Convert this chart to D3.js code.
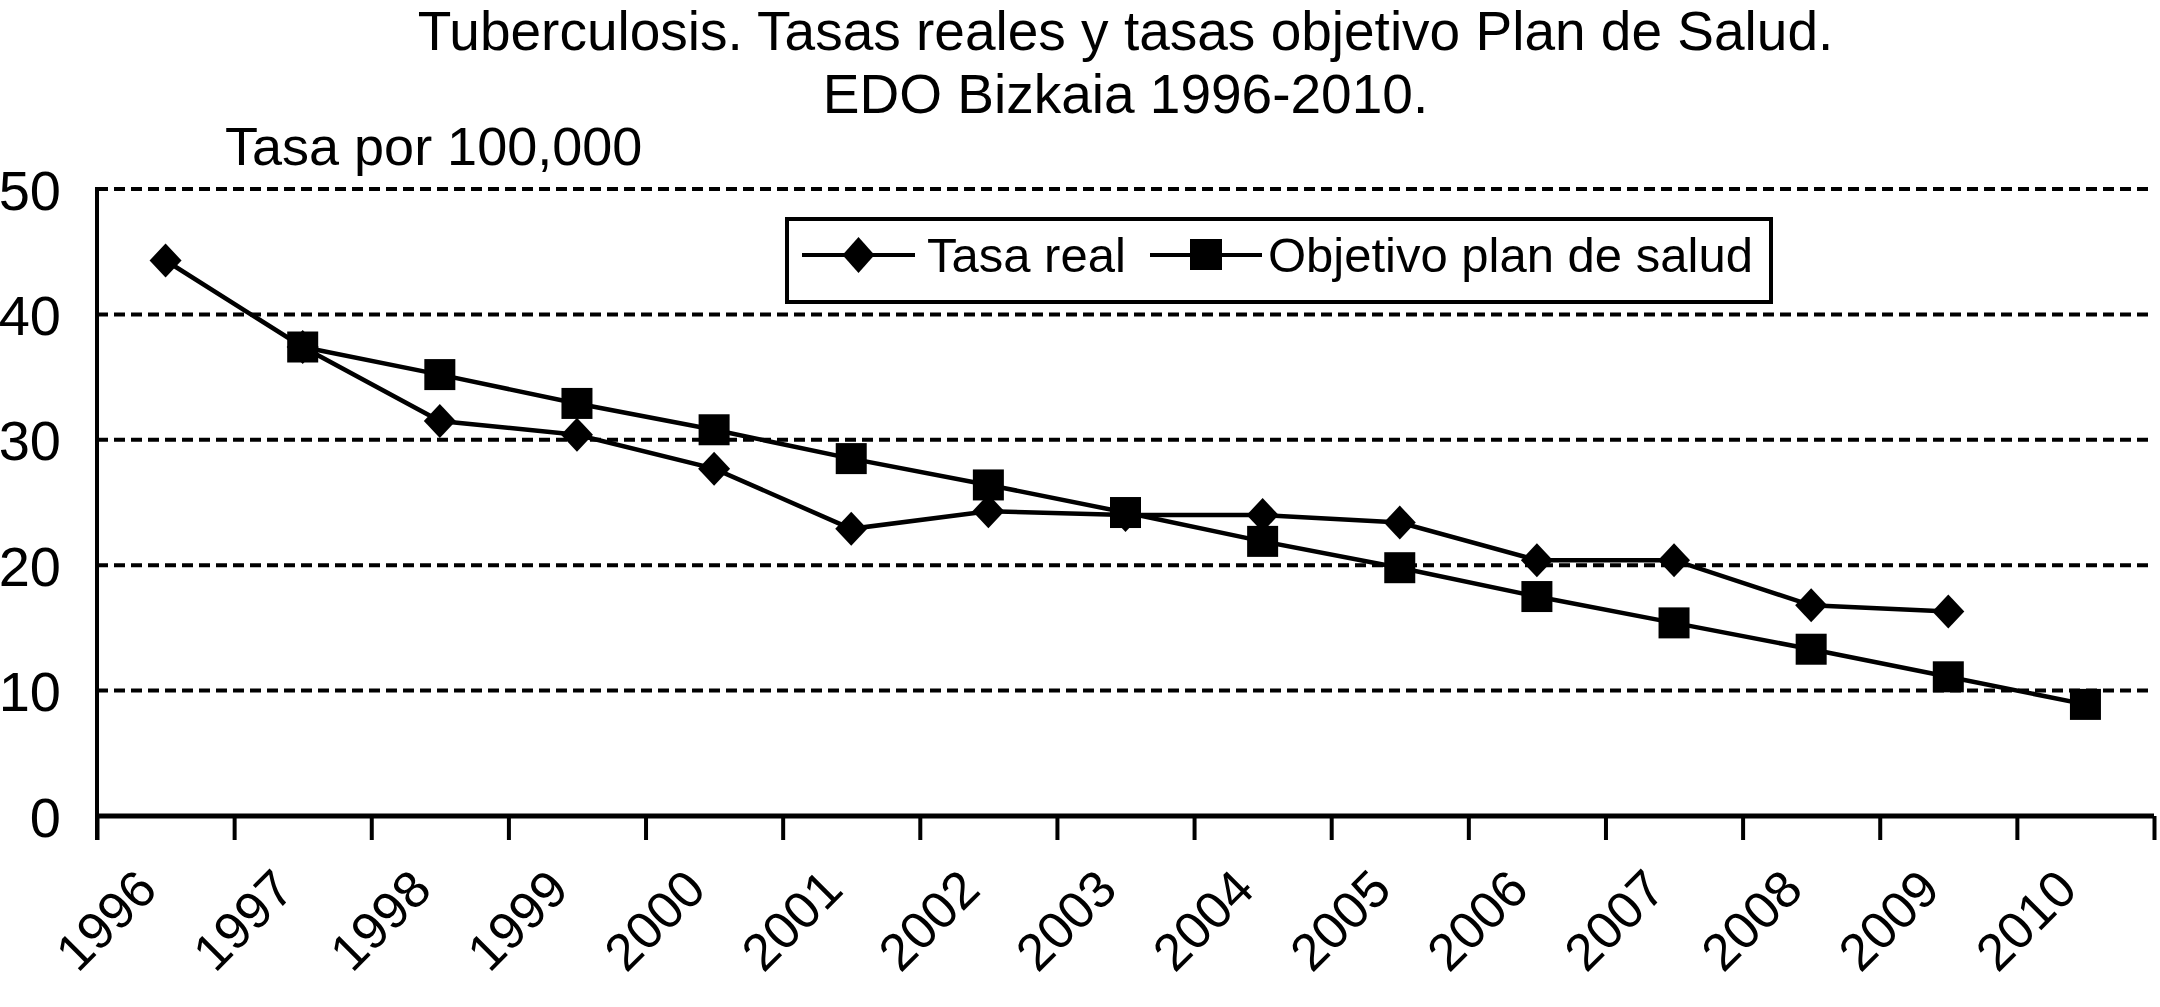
<!DOCTYPE html>
<html>
<head>
<meta charset="utf-8">
<script src="https://cdn.jsdelivr.net/npm/d3@7"></script>
<style>
  html, body { margin: 0; padding: 0; background: #fff; }
  svg { display: block; }
  text { font-family: "Liberation Sans", Arial, Helvetica, sans-serif; fill: #000; }
</style>
</head>
<body>
<svg id="chart" width="2160" height="1007"></svg>
<script>
// ---- data ----
const years = ["1996","1997","1998","1999","2000","2001","2002","2003","2004","2005","2006","2007","2008","2009","2010"];
const tasaReal = [44.3, 37.4, 31.5, 30.4, 27.7, 22.9, 24.3, 24.0, 24.0, 23.4, 20.4, 20.4, 16.8, 16.3, null];
const objetivoPlan = [null, 37.4, 35.2, 32.9, 30.8, 28.5, 26.4, 24.2, 21.9, 19.8, 17.5, 15.4, 13.3, 11.1, 8.9];
const yTicks = [0, 10, 20, 30, 40, 50];
const seriesNames = ["Tasa real", "Objetivo plan de salud"];
const titleLines = ["Tuberculosis. Tasas reales y tasas objetivo Plan de Salud.", "EDO Bizkaia 1996-2010."];
const yAxisTitle = "Tasa por 100,000";

(function () {
// ---- layout ----
const mLeft = 97, mRight = 2154, mTop = 189, mBottom = 816;
const svg = d3.select("#chart");

const x = d3.scaleBand().domain(years).range([mLeft, mRight]).paddingInner(0).paddingOuter(0);
const y = d3.scaleLinear().domain([0, 50]).range([mBottom, mTop]);
const xc = d => x(d) + x.bandwidth() / 2;

// title
svg.selectAll("text.title").data(titleLines).join("text")
  .attr("class", "title")
  .attr("x", (mLeft + mRight) / 2)
  .attr("y", (d, i) => 50 + i * 63)
  .attr("text-anchor", "middle")
  .attr("font-size", 55)
  .text(d => d);

// y-axis title
svg.append("text").attr("x", 225).attr("y", 165).attr("font-size", 54).text(yAxisTitle);

// gridlines
svg.append("g").selectAll("line").data(yTicks.filter(v => v > 0)).join("line")
  .attr("x1", mLeft).attr("x2", mRight)
  .attr("y1", d => y(d)).attr("y2", d => y(d))
  .attr("stroke", "#000").attr("stroke-width", 4).attr("stroke-dasharray", "11,6");

// y axis labels
const yAxis = d3.axisLeft(y).tickValues(yTicks).tickSize(0).tickPadding(36).tickFormat(d3.format("d"));
const gy = svg.append("g").attr("transform", `translate(${mLeft},0)`).call(yAxis);
gy.select(".domain").remove();
gy.selectAll("text").attr("font-size", 56).attr("font-family", "Liberation Sans, Arial, sans-serif").attr("fill", "#000").attr("dy", "0.36em");

// y axis line
svg.append("line").attr("x1", mLeft).attr("x2", mLeft).attr("y1", mTop - 2).attr("y2", mBottom + 24)
  .attr("stroke", "#000").attr("stroke-width", 4);

// x axis with boundary ticks
const xb = d3.scaleLinear().domain([0, years.length]).range([mLeft, mRight]);
const xAxis = d3.axisBottom(xb).tickValues(d3.range(years.length + 1)).tickSize(24).tickFormat("");
const gx = svg.append("g").attr("transform", `translate(0,${mBottom})`).call(xAxis);
gx.select(".domain").attr("stroke", "#000").attr("stroke-width", 5).attr("d", `M${mLeft},0H${mRight}`);
gx.selectAll(".tick line").attr("stroke", "#000").attr("stroke-width", 4);

// x labels rotated
svg.append("g").selectAll("text").data(years).join("text")
  .attr("transform", d => `translate(${xc(d) - 6},892) rotate(-45)`)
  .attr("text-anchor", "end")
  .attr("font-size", 52)
  .text(d => d);

// series
const lineGen = d3.line().defined(d => d.v != null).x(d => xc(d.year)).y(d => y(d.v));
const realData = years.map((yr, i) => ({year: yr, v: tasaReal[i]}));
const objData = years.map((yr, i) => ({year: yr, v: objetivoPlan[i]}));

function diamondPath(cx, cy, hw, hh) {
  return `M${cx},${cy - hh}L${cx + hw},${cy}L${cx},${cy + hh}L${cx - hw},${cy}Z`;
}

svg.append("path").datum(realData).attr("d", lineGen)
  .attr("fill", "none").attr("stroke", "#000").attr("stroke-width", 4.5);
svg.append("g").selectAll("path").data(realData.filter(d => d.v != null)).join("path")
  .attr("d", d => diamondPath(xc(d.year), y(d.v), 16, 17)).attr("fill", "#000");

svg.append("path").datum(objData).attr("d", lineGen)
  .attr("fill", "none").attr("stroke", "#000").attr("stroke-width", 4.5);
svg.append("g").selectAll("rect").data(objData.filter(d => d.v != null)).join("rect")
  .attr("x", d => xc(d.year) - 15.5).attr("y", d => y(d.v) - 15.5)
  .attr("width", 31).attr("height", 31).attr("fill", "#000");

// legend
const lg = svg.append("g");
lg.append("rect").attr("x", 787).attr("y", 219).attr("width", 984).attr("height", 83)
  .attr("fill", "#fff").attr("stroke", "#000").attr("stroke-width", 4);
const legendItems = [
  {name: seriesNames[0], x0: 802, x1: 915, text: 927, marker: "diamond"},
  {name: seriesNames[1], x0: 1150, x1: 1262, text: 1268, marker: "square"}
];
const ly = 255;
legendItems.forEach(it => {
  lg.append("line").attr("x1", it.x0).attr("x2", it.x1).attr("y1", ly).attr("y2", ly)
    .attr("stroke", "#000").attr("stroke-width", 4);
  const cx = (it.x0 + it.x1) / 2;
  if (it.marker === "diamond") {
    lg.append("path").attr("d", diamondPath(cx, ly, 16, 18)).attr("fill", "#000");
  } else {
    lg.append("rect").attr("x", cx - 16).attr("y", ly - 16).attr("width", 32).attr("height", 31).attr("fill", "#000");
  }
  lg.append("text").attr("x", it.text).attr("y", 272).attr("font-size", 49).text(it.name);
});
})();
</script>
</body>
</html>
